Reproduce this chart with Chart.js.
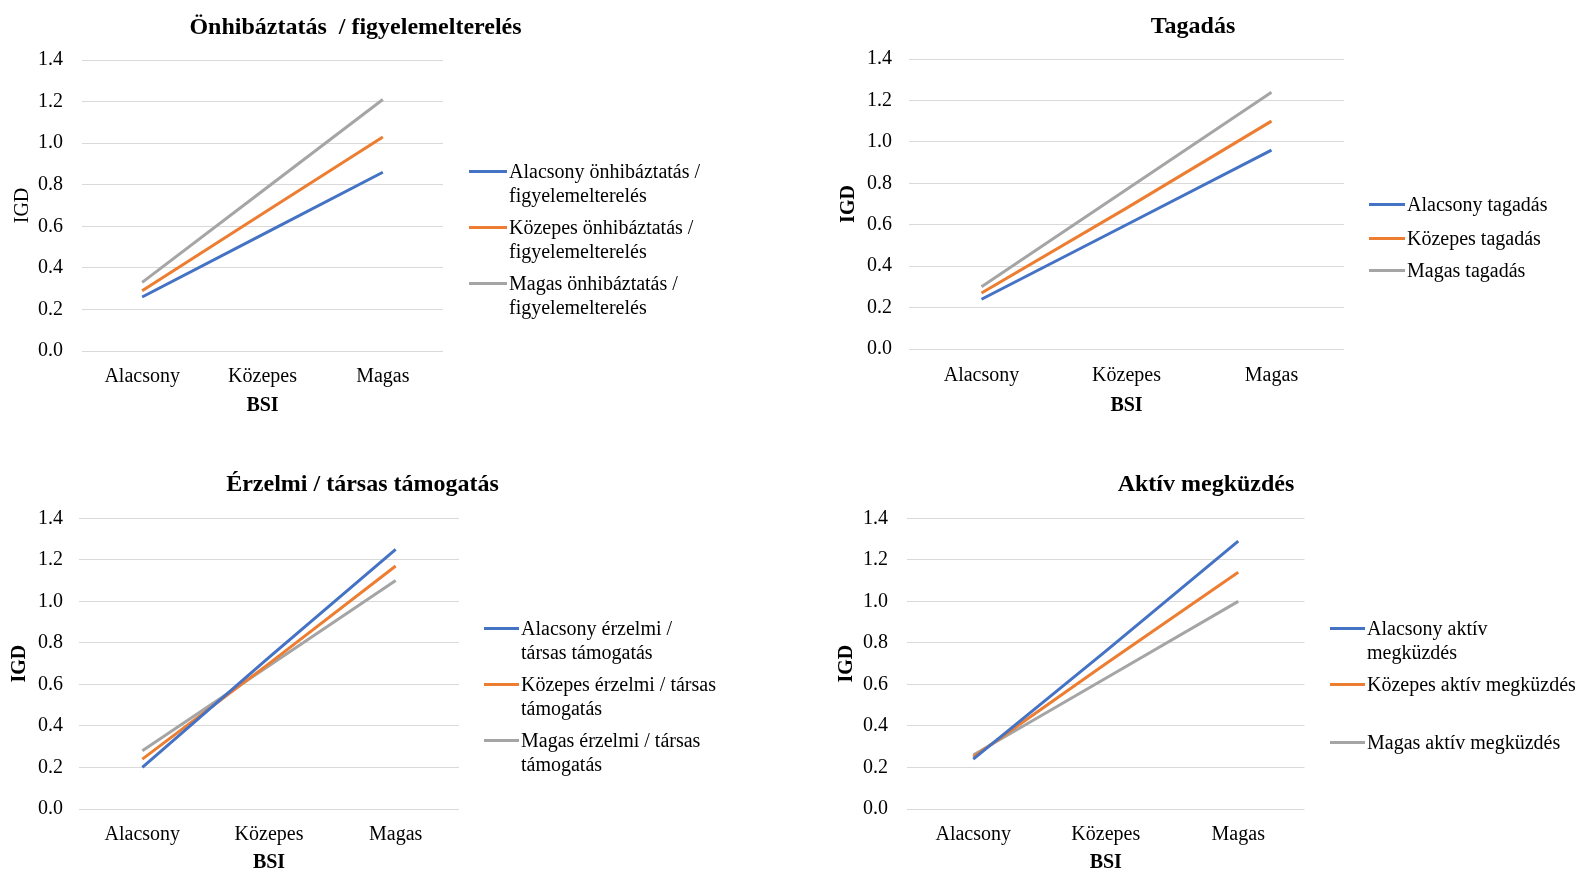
<!DOCTYPE html>
<html>
<head>
<meta charset="utf-8">
<script src="https://cdn.jsdelivr.net/npm/chart.js@4.4.0/dist/chart.umd.min.js"></script>
<style>
    body { margin: 0; background: #fff; width: 1585px; height: 870px; overflow: hidden; position: relative;
           font-family: "Liberation Serif", "Times New Roman", serif; }
    .box { position: absolute; }
    .item { position: absolute; white-space: nowrap; font-size: 20px; line-height: 24px; color: #000; }
    .item i { position: absolute; height: 3px; top: 10.5px; }
</style>
</head>
<body>
<script>
// ===== ADATOK =====
const categories = ["Alacsony", "Közepes", "Magas"];
const titles = ["Önhibáztatás  / figyelemelterelés", "Tagadás", "Érzelmi / társas támogatás", "Aktív megküzdés"];
const xTitle = "BSI";
const yTitle = "IGD";

// önhibáztatás / figyelemelterelés
const onhibLow = [0.26, 0.56, 0.86];
const onhibMid = [0.29, 0.66, 1.03];
const onhibHigh = [0.33, 0.77, 1.21];
// tagadás
const tagLow = [0.24, 0.60, 0.96];
const tagMid = [0.27, 0.68, 1.10];
const tagHigh = [0.30, 0.77, 1.24];
// érzelmi / társas támogatás
const erzLow = [0.20, 0.73, 1.25];
const erzMid = [0.24, 0.70, 1.17];
const erzHigh = [0.28, 0.69, 1.10];
// aktív megküzdés
const aktLow = [0.24, 0.76, 1.29];
const aktMid = [0.25, 0.70, 1.14];
const aktHigh = [0.26, 0.63, 1.00];

const labels1 = [["Alacsony önhibáztatás /", "figyelemelterelés"], ["Közepes önhibáztatás /", "figyelemelterelés"], ["Magas önhibáztatás /", "figyelemelterelés"]];
const labels2 = [["Alacsony tagadás"], ["Közepes tagadás"], ["Magas tagadás"]];
const labels3 = [["Alacsony érzelmi /", "társas támogatás"], ["Közepes érzelmi / társas", "támogatás"], ["Magas érzelmi / társas", "támogatás"]];
const labels4 = [["Alacsony aktív", "megküzdés"], ["Közepes aktív megküzdés"], ["Magas aktív megküzdés"]];

const yMin = 0, yMax = 1.4, yStep = 0.2;

// ===== STÍLUS / ELRENDEZÉS =====
const FONT = "'Liberation Serif', 'Times New Roman', serif";
const COLORS = ["#4472C4", "#ED7D31", "#A5A5A5"];

const layouts = [
    { x: 0, y: 0, w: 711, h: 424, yW: 82, R: 268, tTop: 13, tBot: 18.2, xH: 73, bsiPad: 6, xPad: 14, yPad: 19, igdPad: 11, igdBold: false,
      lineX: 469, lineW: 38, textX: 509, itemY: [171, 227, 283] },
    { x: 830, y: 0, w: 726, h: 422, yW: 79, R: 212, tTop: 12, tBot: 18.2, xH: 73, bsiPad: 4, xPad: 15, yPad: 17, igdPad: 7, igdBold: true,
      lineX: 1369, lineW: 36, textX: 1407, itemY: [204, 238, 270] },
    { x: 0, y: 450, w: 725, h: 427, yW: 79, R: 266, tTop: 20, tBot: 19.5, xH: 68, bsiPad: 2, xPad: 14, yPad: 16, igdPad: 8, igdBold: true,
      lineX: 484, lineW: 35, textX: 521, itemY: [628, 684, 740] },
    { x: 820, y: 450, w: 772, h: 427, yW: 87, R: 287.5, tTop: 20, tBot: 19.5, xH: 68, bsiPad: 2, xPad: 14, yPad: 19, igdPad: 15, igdBold: true,
      lineX: 1330, lineW: 35, textX: 1367, itemY: [628, 684, 742] }
];

const charts = [
    { title: titles[0], series: [onhibLow, onhibMid, onhibHigh], labels: labels1 },
    { title: titles[1], series: [tagLow, tagMid, tagHigh], labels: labels2 },
    { title: titles[2], series: [erzLow, erzMid, erzHigh], labels: labels3 },
    { title: titles[3], series: [aktLow, aktMid, aktHigh], labels: labels4 }
];

function makeLegend(g, labels) {
    labels.forEach((lines, i) => {
        const it = document.createElement("div");
        it.className = "item";
        it.style.left = g.textX + "px";
        it.style.top = (g.itemY[i] - 12) + "px";
        it.innerHTML = lines.join("<br>");
        const mark = document.createElement("i");
        mark.style.left = (g.lineX - g.textX) + "px";
        mark.style.width = g.lineW + "px";
        mark.style.background = COLORS[i];
        it.appendChild(mark);
        document.body.appendChild(it);
    });
}

function makeChart(g, c) {
    const box = document.createElement("div");
    box.className = "box";
    box.style.left = g.x + "px";
    box.style.top = g.y + "px";
    const cv = document.createElement("canvas");
    cv.width = g.w;
    cv.height = g.h;
    cv.style.width = g.w + "px";
    cv.style.height = g.h + "px";
    box.appendChild(cv);
    document.body.appendChild(box);

    new Chart(cv.getContext("2d"), {
        type: "line",
        data: {
            labels: categories,
            datasets: c.series.map((s, i) => ({
                label: c.labels[i].join(" "),
                data: s,
                borderColor: COLORS[i],
                backgroundColor: COLORS[i],
                borderWidth: 3,
                pointRadius: 0,
                tension: 0,
                fill: false
            }))
        },
        options: {
            responsive: false,
            animation: false,
            devicePixelRatio: 1,
            layout: { padding: 0 },
            plugins: {
                legend: { display: false },
                tooltip: { enabled: false },
                title: {
                    display: true, text: c.title, color: "#000",
                    font: { family: FONT, size: 24, weight: "bold", lineHeight: 1.2 },
                    padding: { top: g.tTop, bottom: g.tBot }
                }
            },
            scales: {
                x: {
                    offset: true,
                    grid: { display: false, drawTicks: false, offset: true },
                    border: { display: false },
                    ticks: { color: "#000", font: { family: FONT, size: 20 }, padding: g.xPad, maxRotation: 0 },
                    title: { display: true, text: xTitle, color: "#000", font: { family: FONT, size: 20, weight: "bold", lineHeight: 1.2 }, padding: { top: 0, bottom: g.bsiPad } },
                    afterFit: s => { s.height = g.xH; }
                },
                y: {
                    min: yMin, max: yMax,
                    grid: { color: "#D9D9D9", lineWidth: 1, drawTicks: false },
                    border: { display: false },
                    ticks: { stepSize: yStep, color: "#000", font: { family: FONT, size: 20 }, padding: g.yPad, callback: v => Number(v).toFixed(1) },
                    title: { display: true, text: yTitle, color: "#000", font: { family: FONT, size: 20, weight: g.igdBold ? "bold" : "normal", lineHeight: 1.2 }, padding: { top: g.igdPad, bottom: 0 } },
                    afterFit: s => { s.width = g.yW; }
                },
                // üres hely a jelmagyarázatnak
                legendSpace: {
                    position: "right", display: true,
                    grid: { display: false }, border: { display: false }, ticks: { display: false },
                    afterFit: s => { s.width = g.R; }
                }
            }
        }
    });

    makeLegend(g, c.labels);
}

charts.forEach((c, i) => makeChart(layouts[i], c));
</script>
</body>
</html>
